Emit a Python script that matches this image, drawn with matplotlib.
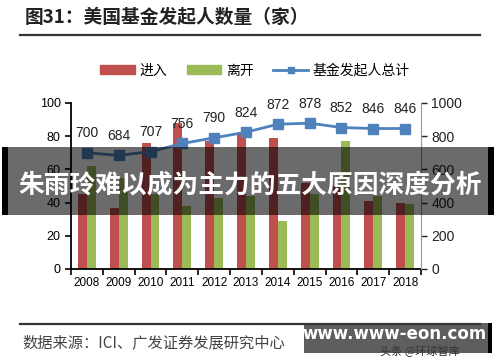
import matplotlib.pyplot as plt
import matplotlib.patches as mpatches
from matplotlib.lines import Line2D
import numpy as np

plt.rcParams['font.family'] = ['Liberation Sans', 'Noto Sans CJK SC', 'DejaVu Sans']

years = ['2008', '2009', '2010', '2011', '2012', '2013', '2014', '2015', '2016', '2017', '2018']
enter = [45, 37, 76, 88, 77, 81, 79, 52, 50, 41, 40]
leave = [62, 55, 45, 38, 43, 44, 29, 45, 77, 44, 39]
total = [700, 684, 707, 756, 790, 824, 872, 878, 852, 846, 846]

red = '#C0504D'
green = '#9BBB59'
blue = '#4F81BD'

fig = plt.figure(figsize=(5, 3.62), dpi=100)
ax = fig.add_axes([0.142, 0.257, 0.70, 0.4586])
ax2 = ax.twinx()

x = np.arange(len(years))
w = 0.28
ax.bar(x - w / 2, enter, w, color=red, zorder=2)
ax.bar(x + w / 2, leave, w, color=green, zorder=2)
ax.set_xlim(-0.5, 10.5)
ax.set_ylim(0, 100)
ax.set_yticks(range(0, 101, 20))
ax.set_xticks(x)
ax.set_xticklabels(years, fontsize=8.5)
ax.set_xticks(np.arange(-0.5, 11, 1), minor=True)
ax.tick_params(axis='x', which='major', length=0, pad=6)
ax.tick_params(axis='x', which='minor', length=4, width=1.2, direction='out')
ax.tick_params(axis='y', length=4, width=1.2, direction='out', labelsize=9)
ax.spines['top'].set_visible(False)
ax.spines['right'].set_visible(False)
ax.spines['left'].set_linewidth(1.3)
ax.spines['bottom'].set_linewidth(1.3)

ax2.plot(x, total, color=blue, lw=2, marker='s', markersize=6.5, zorder=3)
for xi, v in zip(x, total):
    ax2.annotate(str(v), (xi, v), xytext=(0, 9), textcoords='offset points',
                 ha='center', va='bottom', fontsize=10, color='#222222')
ax2.set_ylim(0, 1000)
ax2.set_yticks(range(0, 1001, 200))
ax2.tick_params(axis='y', length=4, width=1, direction='out', labelsize=10, colors='#222222')
ax2.spines['top'].set_visible(False)
ax2.spines['left'].set_visible(False)
ax2.spines['bottom'].set_visible(False)
ax2.spines['right'].set_color('#999999')

# title and rules
fig.text(0.05, 0.953, '图31：美国基金发起人数量（家）', fontsize=13.5, fontweight='bold',
         color='#222222', va='center', family=['Noto Sans CJK SC'])
fig.add_artist(Line2D([0.04, 0.96], [0.903, 0.903], color='#333333', lw=1.6))
fig.add_artist(Line2D([0.04, 0.96], [0.105, 0.105], color='#333333', lw=1.6))
fig.text(0.044, 0.053, '数据来源：ICI、广发证券发展研究中心', fontsize=11, color='#444444',
         va='center', family=['Noto Sans CJK SC'])

# legend
handles = [mpatches.Patch(color=red), mpatches.Patch(color=green),
           Line2D([], [], color=blue, lw=2, marker='s', markersize=5)]
fig.legend(handles, ['进入', '离开', '基金发起人总计'], loc='center', bbox_to_anchor=(0.51, 0.805),
           ncol=3, frameon=False, handlelength=2.5, handleheight=0.55, handletextpad=0.35,
           columnspacing=1.4, prop={'family': ['Noto Sans CJK SC'], 'size': 10})

# overlay banner
fig.add_artist(mpatches.Rectangle((0.016, 0.406), 0.968, 0.188, transform=fig.transFigure,
                                  color='black', alpha=0.58, lw=0, zorder=10))
fig.add_artist(mpatches.Rectangle((0.004, 0.406), 0.012, 0.188, transform=fig.transFigure,
                                  color='black', lw=0, zorder=10))
fig.add_artist(mpatches.Rectangle((0.976, 0.406), 0.012, 0.188, transform=fig.transFigure,
                                  color='black', lw=0, zorder=10))
fig.text(0.5, 0.488, '朱雨玲难以成为主力的五大原因深度分析', fontsize=18.5, fontweight='bold',
         color='white', ha='center', va='center', zorder=11, family=['Noto Sans CJK SC'])

# watermark
fig.text(0.84, 0.03, '头条 @环球智库', fontsize=8, color='#222222', ha='center',
         va='center', zorder=11, family=['Noto Sans CJK SC'])
fig.add_artist(mpatches.Rectangle((0.608, 0.025), 0.372, 0.083, transform=fig.transFigure,
                                  color='#3a3a3a', alpha=0.82, lw=0, zorder=12))
fig.add_artist(mpatches.Rectangle((0.976, 0.025), 0.008, 0.083, transform=fig.transFigure,
                                  color='black', lw=0, zorder=12))
fig.text(0.79, 0.077, 'www.www-eon.com', fontsize=12, fontweight='bold', color='white',
         ha='center', va='center', zorder=13, family=['DejaVu Sans'])

fig.savefig('out.png', dpi=100)
